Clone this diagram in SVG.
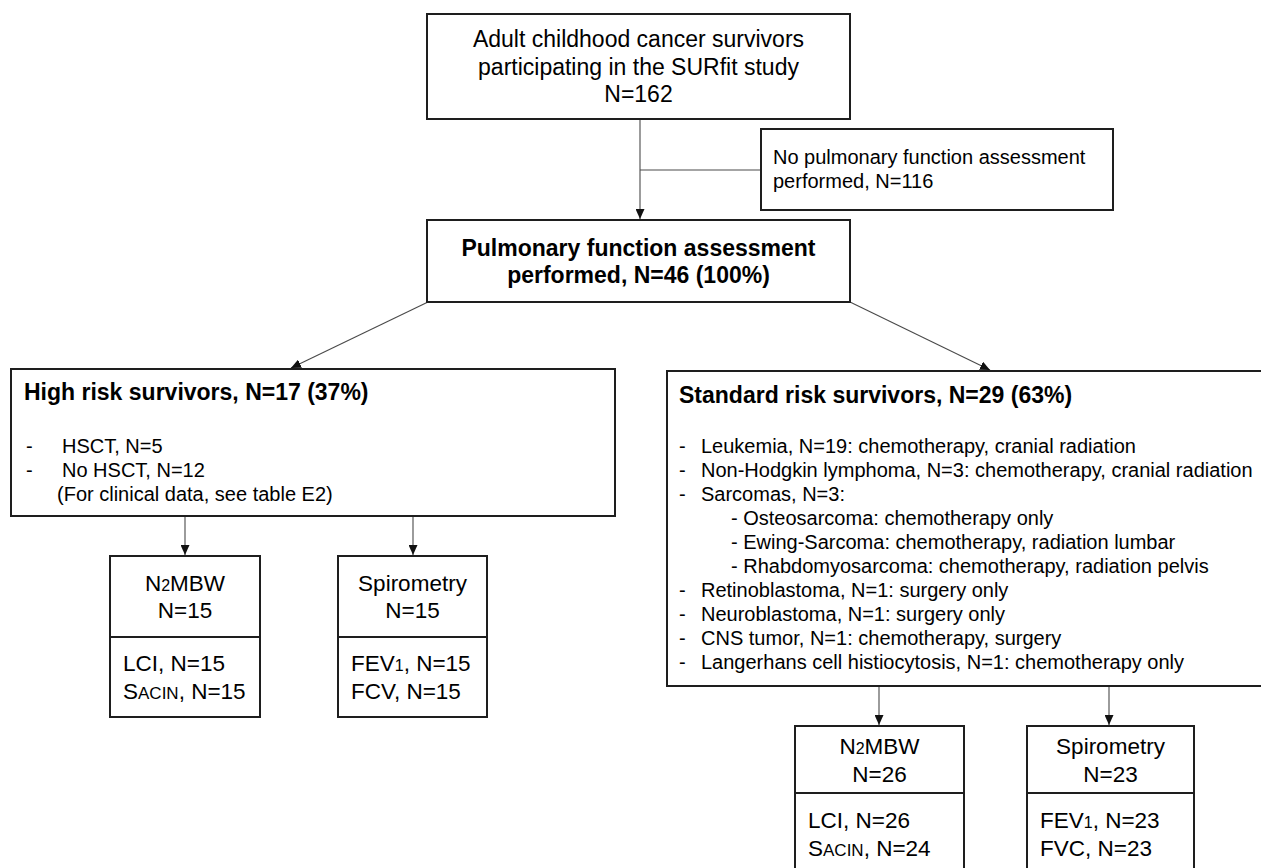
<svg xmlns="http://www.w3.org/2000/svg" width="1261" height="868" viewBox="0 0 1261 868">
<defs>
<style>
.box{fill:#fff;stroke:#1e1e1e;stroke-width:2}
.div{stroke:#1e1e1e;stroke-width:2}
.con{fill:none;stroke:#4a4a4a;stroke-width:1.1}
text{font-family:"Liberation Sans",Arial,sans-serif;fill:#000}
.t23{font-size:23px}
.b23{font-size:23px;font-weight:bold}
.t20{font-size:20px}
.t22{font-size:22.5px}
.c{text-anchor:middle}
.sub{font-size:16px}
.sc{font-size:17px}
</style>
<marker id="arr" markerUnits="userSpaceOnUse" markerWidth="10" markerHeight="9" viewBox="0 0 10 9" refX="10" refY="4.5" orient="auto">
<path d="M0,0 L10,4.5 L0,9 z" fill="#111"/>
</marker>
</defs>
<rect width="1261" height="868" fill="#fff"/>

<g id="connectors">
<path class="con" d="M640,119 V219" marker-end="url(#arr)"/>
<path class="con" d="M640,170 H761"/>
<path class="con" d="M428,302 L291,368" marker-end="url(#arr)"/>
<path class="con" d="M850,302 L990,370" marker-end="url(#arr)"/>
<path class="con" d="M185,516 V555" marker-end="url(#arr)"/>
<path class="con" d="M413,516 V555" marker-end="url(#arr)"/>
<path class="con" d="M879,686 V725" marker-end="url(#arr)"/>
<path class="con" d="M1109,686 V725" marker-end="url(#arr)"/>
</g>

<g id="study">
<rect class="box" x="427" y="14" width="423" height="105"/>
<text class="t23 c" x="638.5" y="47">Adult childhood cancer survivors</text>
<text class="t23 c" x="638.5" y="75">participating in the SURfit study</text>
<text class="t23 c" x="638.5" y="102">N=162</text>
</g>

<g id="excluded">
<rect class="box" x="761" y="129" width="352" height="81"/>
<text class="t20" x="773" y="164">No pulmonary function assessment</text>
<text class="t20" x="773" y="188">performed, N=116</text>
</g>

<g id="assessed">
<rect class="box" x="427" y="220" width="423" height="82"/>
<text class="b23 c" x="638.5" y="256">Pulmonary function assessment</text>
<text class="b23 c" x="638.5" y="283">performed, N=46 (100%)</text>
</g>

<g id="highrisk">
<rect class="box" x="11" y="369" width="604" height="147"/>
<text class="b23" x="24" y="400">High risk survivors, N=17 (37%)</text>
<text class="t20" x="26" y="453">-</text>
<text class="t20" x="62" y="453">HSCT, N=5</text>
<text class="t20" x="26" y="477">-</text>
<text class="t20" x="62" y="477">No HSCT, N=12</text>
<text class="t20" x="57" y="501">(For clinical data, see table E2)</text>
</g>

<g id="hr-n2mbw">
<rect class="box" x="110" y="556" width="150" height="161"/>
<line class="div" x1="110" y1="637" x2="260" y2="637"/>
<text class="t22 c" x="185" y="591">N<tspan class="sub">2</tspan>MBW</text>
<text class="t22 c" x="185" y="618">N=15</text>
<text class="t22" x="123" y="671">LCI, N=15</text>
<text class="t22" x="123" y="699">S<tspan class="sc">ACIN</tspan>, N=15</text>
</g>

<g id="hr-spiro">
<rect class="box" x="338" y="556" width="149" height="161"/>
<line class="div" x1="338" y1="637" x2="487" y2="637"/>
<text class="t22 c" x="412.5" y="591">Spirometry</text>
<text class="t22 c" x="412.5" y="618">N=15</text>
<text class="t22" x="351" y="671">FEV<tspan class="sub">1</tspan>, N=15</text>
<text class="t22" x="351" y="699">FCV, N=15</text>
</g>

<g id="standardrisk">
<rect class="box" x="667" y="371" width="610" height="315"/>
<text class="b23" x="679" y="403">Standard risk survivors, N=29 (63%)</text>
<text class="t20" x="679" y="453">-</text><text class="t20" x="701" y="453">Leukemia, N=19: chemotherapy, cranial radiation</text>
<text class="t20" x="679" y="477">-</text><text class="t20" x="701" y="477">Non-Hodgkin lymphoma, N=3: chemotherapy, cranial radiation</text>
<text class="t20" x="679" y="501">-</text><text class="t20" x="701" y="501">Sarcomas, N=3:</text>
<text class="t20" x="731" y="525">- Osteosarcoma: chemotherapy only</text>
<text class="t20" x="731" y="549">- Ewing-Sarcoma: chemotherapy, radiation lumbar</text>
<text class="t20" x="731" y="573">- Rhabdomyosarcoma: chemotherapy, radiation pelvis</text>
<text class="t20" x="679" y="597">-</text><text class="t20" x="701" y="597">Retinoblastoma, N=1: surgery only</text>
<text class="t20" x="679" y="621">-</text><text class="t20" x="701" y="621">Neuroblastoma, N=1: surgery only</text>
<text class="t20" x="679" y="645">-</text><text class="t20" x="701" y="645">CNS tumor, N=1: chemotherapy, surgery</text>
<text class="t20" x="679" y="669">-</text><text class="t20" x="701" y="669">Langerhans cell histiocytosis, N=1: chemotherapy only</text>
</g>

<g id="sr-n2mbw">
<rect class="box" x="795" y="726" width="169" height="161"/>
<line class="div" x1="795" y1="793" x2="964" y2="793"/>
<text class="t22 c" x="879.5" y="754">N<tspan class="sub">2</tspan>MBW</text>
<text class="t22 c" x="879.5" y="782">N=26</text>
<text class="t22" x="808" y="828">LCI, N=26</text>
<text class="t22" x="808" y="856">S<tspan class="sc">ACIN</tspan>, N=24</text>
</g>

<g id="sr-spiro">
<rect class="box" x="1027" y="726" width="167" height="161"/>
<line class="div" x1="1027" y1="793" x2="1194" y2="793"/>
<text class="t22 c" x="1110.5" y="754">Spirometry</text>
<text class="t22 c" x="1110.5" y="782">N=23</text>
<text class="t22" x="1040" y="828">FEV<tspan class="sub">1</tspan>, N=23</text>
<text class="t22" x="1040" y="856">FVC, N=23</text>
</g>
</svg>
